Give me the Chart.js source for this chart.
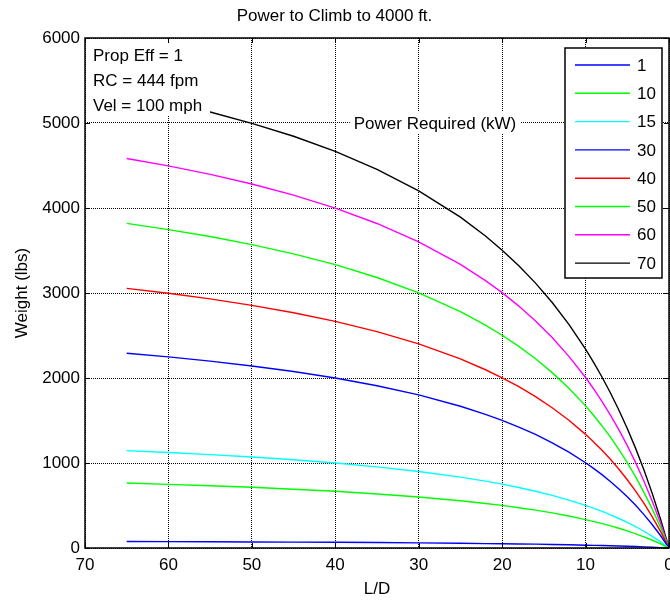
<!DOCTYPE html>
<html>
<head>
<meta charset="utf-8">
<title>Power to Climb to 4000 ft.</title>
<script src="https://cdn.jsdelivr.net/npm/chart.js@4.4.0/dist/chart.umd.min.js"></script>
<style>
  html, body { margin: 0; padding: 0; background: #fff; overflow: hidden; }
  canvas { display: block; }
</style>
</head>
<body>
<canvas id="myChart" width="670" height="601"></canvas>
<script>
// L/D values (x) and weight (lbs) for each power level (kW)
var ldValues = [65, 60, 55, 50, 45, 40, 35, 30, 25, 22, 20, 18, 16, 14, 12, 10, 9, 8, 7, 6, 5, 4, 3, 2, 1, 0];
var powerLabels = ['1', '10', '15', '30', '40', '50', '60', '70'];

var w1  = [76, 75, 73, 71, 69, 67, 64, 60, 56, 52, 50, 47, 45, 41, 38, 33, 31, 29, 26, 23, 20, 17, 13, 9, 5, 0];
var w10 = [764, 749, 733, 714, 692, 667, 636, 600, 556, 524, 501, 474, 445, 413, 376, 334, 311, 287, 260, 232, 201, 167, 131, 91, 48, 0];
var w15 = [1146, 1124, 1099, 1071, 1038, 1000, 955, 900, 834, 787, 751, 712, 668, 619, 564, 501, 467, 430, 390, 347, 301, 251, 197, 137, 72, 0];
var w30 = [2291, 2248, 2198, 2141, 2076, 2000, 1909, 1801, 1668, 1573, 1502, 1423, 1336, 1238, 1128, 1003, 934, 860, 780, 695, 602, 502, 393, 274, 144, 0];
var w40 = [3055, 2997, 2931, 2855, 2768, 2666, 2546, 2401, 2224, 2097, 2002, 1898, 1781, 1650, 1503, 1337, 1245, 1146, 1041, 926, 803, 670, 524, 366, 192, 0];
var w50 = [3819, 3746, 3664, 3569, 3460, 3333, 3182, 3001, 2780, 2622, 2503, 2372, 2226, 2063, 1879, 1672, 1556, 1433, 1301, 1158, 1004, 837, 655, 457, 240, 0];
var w60 = [4583, 4495, 4396, 4282, 4152, 3999, 3818, 3601, 3336, 3146, 3004, 2846, 2671, 2476, 2255, 2006, 1868, 1720, 1561, 1390, 1205, 1004, 786, 548, 287, 0];
var w70 = [5347, 5244, 5129, 4996, 4844, 4666, 4455, 4201, 3892, 3670, 3504, 3321, 3116, 2888, 2631, 2340, 2179, 2006, 1821, 1621, 1406, 1172, 917, 640, 335, 0];

var xTicks = [70, 60, 50, 40, 30, 20, 10, 0];
var yTicks = [0, 1000, 2000, 3000, 4000, 5000, 6000];
var noteLines = ['Prop Eff = 1', 'RC = 444 fpm', 'Vel = 100 mph'];

var seriesData = [w1, w10, w15, w30, w40, w50, w60, w70];
var seriesColors = ['#0000ff', '#00ff00', '#00ffff', '#0000ff', '#ff0000', '#00ff00', '#ff00ff', '#000000'];

var FONT = '"Liberation Sans", Arial, sans-serif';

function toPoints(arr) {
    return ldValues.map(function(v, i) { return { x: v, y: arr[i] }; });
}

// box, inward ticks, text box, contour-style label and legend
var overlay = {
    id: 'overlay',
    afterDatasetsDraw: function(chart) {
        var ctx = chart.ctx;
        var a = chart.chartArea;
        var xs = chart.scales.x, ys = chart.scales.y;
        ctx.save();

        // note box (white, covers lines)
        ctx.fillStyle = '#fff';
        ctx.fillRect(a.left + 1, a.top + 1, 124, 77);
        ctx.fillStyle = '#000';
        ctx.font = '17px ' + FONT;
        ctx.textAlign = 'left';
        ctx.textBaseline = 'middle';
        noteLines.forEach(function(t, i) {
            ctx.fillText(t, a.left + 8, a.top + 18 + i * 25);
        });

        // "Power Required (kW)" label on the 5000 line
        var lbl = 'Power Required (kW)';
        var lx = 435, ly = ys.getPixelForValue(5000);
        var tw = ctx.measureText(lbl).width;
        ctx.fillStyle = '#fff';
        ctx.fillRect(lx - tw / 2 - 4, ly - 11, tw + 8, 22);
        ctx.fillStyle = '#000';
        ctx.textAlign = 'center';
        ctx.fillText(lbl, lx, ly + 1);

        // inward tick marks
        ctx.strokeStyle = '#000';
        ctx.lineWidth = 1;
        ctx.beginPath();
        xTicks.forEach(function(v) {
            var px = Math.round(xs.getPixelForValue(v)) + 0.5;
            ctx.moveTo(px, a.top); ctx.lineTo(px, a.top + 5);
            ctx.moveTo(px, a.bottom); ctx.lineTo(px, a.bottom - 5);
        });
        yTicks.forEach(function(v) {
            var py = Math.round(ys.getPixelForValue(v)) + 0.5;
            ctx.moveTo(a.left, py); ctx.lineTo(a.left + 5, py);
            ctx.moveTo(a.right, py); ctx.lineTo(a.right - 5, py);
        });
        ctx.stroke();

        // axes box
        ctx.lineWidth = 1.5;
        ctx.strokeRect(a.left, a.top, a.right - a.left, a.bottom - a.top);

        // legend
        var bx = 565, by = 48, bw = 97, bh = 230;
        ctx.fillStyle = '#fff';
        ctx.fillRect(bx, by, bw, bh);
        ctx.lineWidth = 1.5;
        ctx.strokeStyle = '#000';
        ctx.strokeRect(bx, by, bw, bh);
        ctx.textAlign = 'left';
        chart.data.datasets.forEach(function(ds, i) {
            var yy = by + 17 + i * 28.3;
            ctx.strokeStyle = ds.borderColor;
            ctx.lineWidth = 1.4;
            ctx.beginPath();
            ctx.moveTo(bx + 10, yy); ctx.lineTo(bx + 65, yy);
            ctx.stroke();
            ctx.fillStyle = '#000';
            ctx.fillText(ds.label, bx + 72, yy + 1);
        });
        ctx.restore();
    }
};

document.addEventListener('DOMContentLoaded', function() {
    var ctx = document.getElementById('myChart').getContext('2d');

    var datasets = seriesData.map(function(arr, i) {
        return {
            label: powerLabels[i],
            data: toPoints(arr),
            borderColor: seriesColors[i],
            backgroundColor: seriesColors[i],
            borderWidth: 1.4,
            pointRadius: 0,
            tension: 0,
            fill: false
        };
    });

    var myChart = new Chart(ctx, {
        type: 'line',
        data: { datasets: datasets },
        options: {
            responsive: false,
            animation: false,
            layout: { padding: { left: 0, right: 1, top: 0, bottom: 0 } },
            plugins: {
                legend: { display: false },
                tooltip: { enabled: false },
                title: {
                    display: true,
                    text: 'Power to Climb to 4000 ft.',
                    color: '#000',
                    font: { family: FONT, size: 17, weight: 'normal' },
                    padding: { top: 6, bottom: 11.6 }
                }
            },
            scales: {
                x: {
                    type: 'linear',
                    reverse: true,
                    min: 0,
                    max: 70,
                    afterFit: function(s) { s.height = 53; s.paddingRight = 0; s.paddingLeft = 0; },
                    ticks: {
                        stepSize: 10,
                        color: '#000',
                        padding: 7,
                        maxRotation: 0,
                        font: { family: FONT, size: 17 },
                        callback: function(v) { return String(v); }
                    },
                    grid: { color: '#000', lineWidth: 1, drawTicks: false },
                    border: { display: false, dash: [1, 1] },
                    title: {
                        display: true,
                        text: 'L/D',
                        color: '#000',
                        font: { family: FONT, size: 17 },
                        padding: { top: 0, bottom: 1 }
                    }
                },
                y: {
                    min: 0,
                    max: 6000,
                    afterFit: function(s) { s.width = 85; },
                    ticks: {
                        stepSize: 1000,
                        color: '#000',
                        padding: 5,
                        font: { family: FONT, size: 17 },
                        callback: function(v) { return String(v); }
                    },
                    grid: { color: '#000', lineWidth: 1, drawTicks: false },
                    border: { display: false, dash: [1, 1] },
                    title: {
                        display: true,
                        text: 'Weight (lbs)',
                        color: '#000',
                        font: { family: FONT, size: 17 },
                        padding: { top: 12, bottom: 0 }
                    }
                }
            }
        },
        plugins: [overlay]
    });
});
</script>
</body>
</html>
